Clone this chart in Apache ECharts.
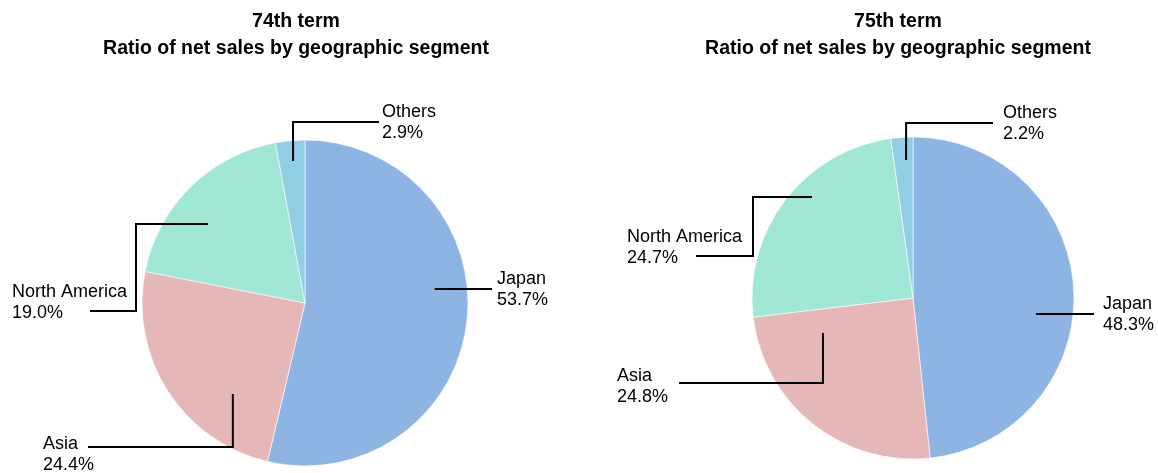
<!DOCTYPE html>
<html>
<head>
<meta charset="utf-8">
<script src="https://cdn.jsdelivr.net/npm/echarts@6/dist/echarts.min.js"></script>
<style>
html,body{margin:0;padding:0;background:#fff;}
#chart{width:1158px;height:473px;}
</style>
</head>
<body>
<div id="chart"></div>
<script>
// ---- data ----
const categories = ['Japan', 'Asia', 'North America', 'Others'];
const term74 = [53.7, 24.4, 19.0, 2.9];
const term75 = [48.3, 24.8, 24.7, 2.2];
const termTitles = ['74th term', '75th term'];
const subtitle = 'Ratio of net sales by geographic segment';

// ---- layout / style ----
const colors = ['#8EB4E3', '#E5B8B7', '#A0E8D5', '#8FCEE4'];
const FONT = '"Liberation Sans", Arial, sans-serif';
const pies = [
  { center: [305, 303], r: 163, titleX: 296 },
  { center: [913, 298], r: 161, titleX: 898 }
];
// leader line: start = slice mid-angle + da at fraction f of radius; elbows relative to pie centre
const leaders = [
  [
    { da: -12.8, f: 0.80, type: 'h', ex: 187, lx: 192, ly: -13 },
    { da: -18.8, f: 0.712, type: 'vh', ey: 144, ex: -217, lx: -262, ly: 152 },
    { da: -6.2, f: 0.767, type: 'hvh', mx: -169, ey: 8, ex: -215, lx: -293, ly: 0 },
    { da: 0.4, f: 0.874, type: 'vh', ey: -181, ex: 74, lx: 77, ly: -180 }
  ],
  [
    { da: 10.5, f: 0.77, type: 'h', ex: 181, lx: 190, ly: 17 },
    { da: 30.25, f: 0.60, type: 'vh', ey: 85, ex: -234, lx: -296, ly: 89 },
    { da: 7.4, f: 0.887, type: 'hvh', mx: -160, ey: -42, ex: -217, lx: -286, ly: -50 },
    { da: 1.1, f: 0.858, type: 'vh', ey: -175, ex: 80, lx: 90, ly: -174 }
  ]
];

const datasets = [term74, term75];

function midAngles(values) {
  const total = values.reduce((a, b) => a + b, 0);
  let acc = 0;
  return values.map(v => {
    const m = (acc + v / 2) / total * 360;
    acc += v;
    return m;
  });
}

function leaderPoints(si, i) {
  const p = pies[si];
  const mids = midAngles(datasets[si]);
  const L = leaders[si][i];
  const cx = p.center[0], cy = p.center[1];
  const a = (mids[i] + L.da) * Math.PI / 180;
  const sx = cx + L.f * p.r * Math.sin(a);
  const sy = cy - L.f * p.r * Math.cos(a);
  if (L.type === 'h') return [[sx, sy], [cx + L.ex, sy]];
  if (L.type === 'vh') return [[sx, sy], [sx, cy + L.ey], [cx + L.ex, cy + L.ey]];
  return [[sx, sy], [cx + L.mx, sy], [cx + L.mx, cy + L.ey], [cx + L.ex, cy + L.ey]];
}

function makeLayout(si) {
  const p = pies[si];
  return function (params) {
    const L = leaders[si][params.dataIndex];
    return {
      x: p.center[0] + L.lx,
      y: p.center[1] + L.ly,
      align: 'left',
      verticalAlign: 'middle'
    };
  };
}

const leaderGraphics = [];
datasets.forEach((vals, si) => {
  vals.forEach((v, i) => {
    leaderGraphics.push({
      type: 'polyline',
      z: 100,
      silent: true,
      shape: { points: leaderPoints(si, i) },
      style: { stroke: '#000', lineWidth: 2, fill: null }
    });
  });
});

const chart = echarts.init(document.getElementById('chart'), null, { renderer: 'canvas' });

const option = {
  animation: false,
  backgroundColor: '#ffffff',
  color: colors,
  title: pies.map((p, i) => ({
    text: termTitles[i] + '\n' + subtitle,
    left: p.titleX,
    top: 8,
    textAlign: 'center',
    padding: 0,
    textStyle: {
      fontFamily: FONT,
      fontSize: 19.5,
      fontWeight: 'bold',
      lineHeight: 27,
      color: '#000'
    }
  })),
  graphic: { elements: leaderGraphics },
  series: pies.map((p, si) => ({
    type: 'pie',
    center: p.center,
    radius: p.r,
    startAngle: 90,
    clockwise: true,
    avoidLabelOverlap: false,
    silent: true,
    itemStyle: { borderColor: '#ffffff', borderWidth: 0.6 },
    label: {
      show: true,
      position: 'outside',
      formatter: prm => prm.name + '\n' + prm.value.toFixed(1) + '%',
      fontFamily: FONT,
      fontSize: 18,
      lineHeight: 21,
      color: '#000'
    },
    labelLine: { show: false },
    labelLayout: makeLayout(si),
    data: categories.map((c, i) => ({ name: c, value: datasets[si][i] }))
  }))
};

chart.setOption(option);
</script>
</body>
</html>
